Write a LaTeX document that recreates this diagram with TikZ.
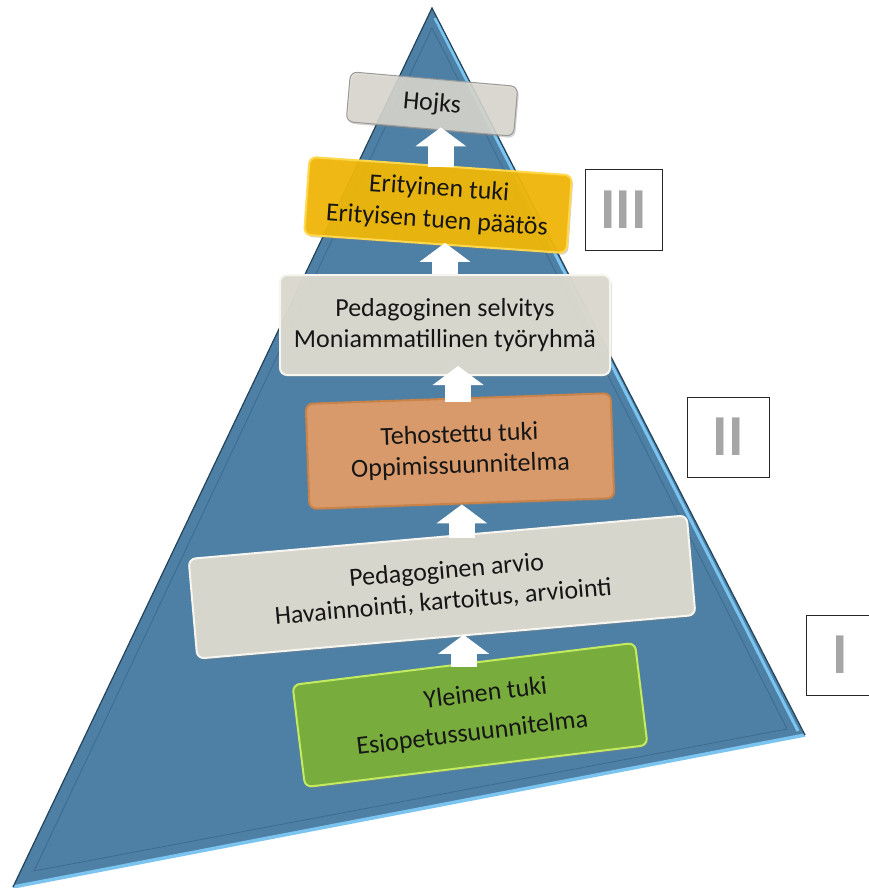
\documentclass[tikz,border=0pt]{standalone}
\usepackage{fontspec}
\setmainfont{Carlito}
\usetikzlibrary{arrows.meta,calc,shadows}
\definecolor{pyrfill}{HTML}{4E80A5}
\definecolor{pyrdark}{HTML}{22435A}
\definecolor{pyrlight}{HTML}{7CC4F0}
\definecolor{pyrinner}{HTML}{3D6B8E}
\definecolor{greyfill}{HTML}{DBD9CF}
\definecolor{greyedge}{HTML}{F6F5F0}
\definecolor{orfill}{HTML}{D89A6B}
\definecolor{oredge}{HTML}{C98248}
\definecolor{yefill}{HTML}{F2B705}
\definecolor{yeedge}{HTML}{FFD84D}
\definecolor{grfill}{HTML}{78AD3D}
\definecolor{gredge}{HTML}{C4EA5E}
\definecolor{numgrey}{HTML}{A6A6A6}
\definecolor{txt}{HTML}{161616}
\begin{document}
\begin{tikzpicture}[x=1pt,y=-1pt,
  box/.style={rounded corners=7pt, line width=2pt, align=center,
    font=\fontsize{26}{31}\selectfont, text=txt, inner sep=0pt,
    drop shadow={opacity=0.35, shadow xshift=1.5pt, shadow yshift=-2pt}},
  greybox/.style={box, fill=greyfill, draw=greyedge, fill opacity=0.97, text opacity=1},
  topbox/.style={greybox, fill opacity=0.85, draw=black!40, line width=1pt},
  orbox/.style={box, fill=orfill, draw=oredge},
  yebox/.style={box, fill=yefill, draw=yeedge, fill opacity=0.93, text opacity=1},
  grbox/.style={box, fill=grfill, draw=gredge},
  numbox/.style={draw=black!85, fill=white, line width=0.9pt, inner sep=0pt,
    font=\fontsize{58}{60}\selectfont\bfseries, text=numgrey},
  uparr/.style={draw=white, line width=26pt, -{Triangle[length=19pt,width=50pt,fill=white]}}
]
\useasboundingbox (0,0) rectangle (869,888);
\clip (0,0) rectangle (869,888);

% pyramid
\coordinate (apex) at (432,8);
\coordinate (bl) at (13,887);
\coordinate (br) at (805,735);
\fill[pyrfill] (apex) -- (br) -- (bl) -- cycle;
\draw[pyrinner, line width=0.8pt] (432,28) -- (787,729) -- (34,871) -- cycle;
\draw[pyrlight, line width=3.5pt] (bl) -- (br);
\draw[pyrlight, line width=3pt] (435,18) -- (798,731);
\draw[pyrdark, line width=1.2pt] (bl) -- (apex) -- (br);

% boxes
\node[topbox, rotate=-5, minimum width=168, minimum height=50] (hojks) at (432,104) {Hojks};
\node[yebox, rotate=-4, minimum width=263, minimum height=78] (yel) at (438,205)
  {Erityinen tuki\\[1pt]Erityisen tuen päätös};
\node[greybox, minimum width=330, minimum height=100] (selv) at (445,325)
  {Pedagoginen selvitys\\Moniammatillinen työryhmä};
\node[orbox, rotate=2, minimum width=305, minimum height=105] (teh) at (460,451)
  {Tehostettu tuki\\Oppimissuunnitelma};
\node[greybox, rotate=5, minimum width=500, minimum height=100] (arv) at (442,587)
  {\hspace*{12pt}Pedagoginen arvio\\Havainnointi, kartoitus, arviointi};
\node[grbox, rotate=7, minimum width=345, minimum height=103] (gr) at (470,715)
  {\hspace*{36pt}Yleinen tuki\\[7pt]Esiopetussuunnitelma};

% arrows
\draw[uparr, shorten <=-4pt, shorten >=-3pt] (gr.north) -- (gr.north |- arv.south);
\draw[uparr, shorten <=-2pt, shorten >=0pt] (arv.north -| teh.south) -- (teh.south);
\draw[uparr, shorten <=-4pt, shorten >=-10pt] (teh.north) -- (teh.north |- selv.south);
\draw[uparr, shorten <=0pt, shorten >=-2pt] (selv.north) -- (selv.north |- yel.south);
\draw[uparr, shorten <=-2pt, shorten >=-2pt] (yel.north) -- (yel.north |- hojks.south);

% level boxes
\node[numbox, minimum width=77, minimum height=81] (n3) at (623.5,209.5) {III};
\node[numbox, minimum width=82, minimum height=80] (n2) at (728,437) {II};
\node[numbox, minimum width=68, minimum height=80] (n1) at (840,655) {I};
\end{tikzpicture}
\end{document}
